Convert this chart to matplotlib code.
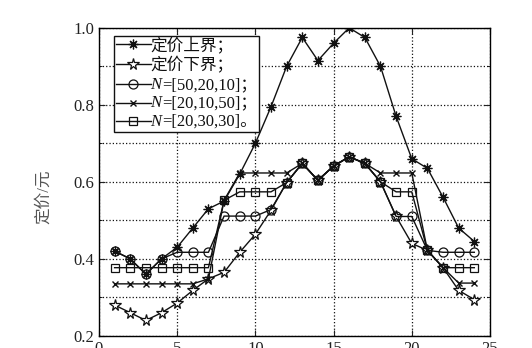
import matplotlib
matplotlib.use('Agg')
import matplotlib.pyplot as plt
from matplotlib.lines import Line2D
from matplotlib.offsetbox import (AnchoredOffsetbox, DrawingArea, HPacker,
                                  TextArea, VPacker)
import numpy as np

plt.rcParams['font.family'] = ['Liberation Serif', 'Noto Sans CJK SC']

# time slots
t = np.arange(1, 25)

# price series
upper = [0.42, 0.40, 0.36, 0.40, 0.43, 0.48, 0.53, 0.55, 0.62, 0.70, 0.795, 0.90,
         0.975, 0.915, 0.96, 1.00, 0.975, 0.90, 0.77, 0.66, 0.635, 0.56, 0.48, 0.445]
lower = [0.28, 0.26, 0.24, 0.26, 0.285, 0.318, 0.348, 0.365, 0.417, 0.464, 0.526, 0.598,
         0.648, 0.604, 0.641, 0.665, 0.648, 0.60, 0.51, 0.44, 0.422, 0.377, 0.318, 0.294]
n_50_20_10 = [0.42, 0.40, 0.36, 0.40, 0.417, 0.417, 0.417, 0.511, 0.511, 0.511, 0.528, 0.598,
              0.648, 0.604, 0.641, 0.665, 0.648, 0.60, 0.51, 0.51, 0.422, 0.417, 0.417, 0.417]
n_20_10_50 = [0.335, 0.335, 0.335, 0.335, 0.335, 0.335, 0.348, 0.552, 0.623, 0.623, 0.623, 0.623,
              0.648, 0.604, 0.641, 0.665, 0.648, 0.623, 0.623, 0.623, 0.422, 0.377, 0.337, 0.337]
n_20_30_30 = [0.377, 0.377, 0.377, 0.377, 0.377, 0.377, 0.377, 0.552, 0.574, 0.574, 0.574, 0.598,
              0.648, 0.604, 0.641, 0.665, 0.648, 0.60, 0.574, 0.574, 0.422, 0.377, 0.377, 0.377]

# legend labels: (italic prefix, rest)
labels = [('', '定价上界；'), ('', '定价下界；'),
          ('N', '=[50,20,10]；'), ('N', '=[20,10,50]；'), ('N', '=[20,30,30]。')]

fig = plt.figure(figsize=(5.32, 3.48), dpi=100)
ax = fig.add_axes([0.186, 0.035, 0.735, 0.885])

c = '#111111'
styles = [dict(marker=(8, 2, 0), ms=7, mew=0.9, mfc=c),
          dict(marker='*', ms=8.5, mfc='white', mew=0.9),
          dict(marker='o', ms=6.5, mfc='none', mew=0.9),
          dict(marker='x', ms=5, mew=1),
          dict(marker='s', ms=5.5, mfc='none', mew=0.9)]
series = [upper, lower, n_50_20_10, n_20_10_50, n_20_30_30]

for ys, st in zip(series, styles):
    ax.plot(t, ys, color=c, lw=1, mec=c, **st)

ax.set_xlim(0, 25)
ax.set_ylim(0.2, 1.0)
ax.set_xticks([0, 5, 10, 15, 20, 25])
ax.set_yticks([0.2, 0.4, 0.6, 0.8, 1.0])
ax.set_yticks([0.3, 0.5, 0.7, 0.9], minor=True)
ax.set_yticklabels(['0.2', '0.4', '0.6', '0.8', '1.0'])
ax.tick_params(direction='in', top=True, right=True, labelsize=12, length=4, width=0.8,
               colors='#222222')
ax.tick_params(which='minor', direction='in', left=True, right=True, length=2)
ax.grid(True, which='both', axis='y', linestyle=':', color=c, lw=0.9)
ax.grid(True, which='major', axis='x', linestyle=':', color=c, lw=0.9)
for s in ax.spines.values():
    s.set_linewidth(1)

ax.set_ylabel('定价/元', fontsize=12, color='#555555')
ax.yaxis.set_label_coords(-0.12, 0.45)

# hand-built legend so that N can be italic next to CJK punctuation
rows = []
for (pre, rest), st in zip(labels, styles):
    da = DrawingArea(25, 10, 0, 0)
    hy = 6.5 if not pre else 5.5
    da.add_artist(Line2D([0, 25], [hy, hy], color=c, lw=1))
    da.add_artist(Line2D([12.5], [hy], color=c, lw=0, mec=c, **st))
    parts = [da]
    if pre:
        parts.append(TextArea(pre, textprops=dict(fontsize=12, style='italic', color=c)))
    parts.append(TextArea(rest, textprops=dict(fontsize=12, color=c)))
    rows.append(HPacker(children=parts, align='center', pad=0, sep=0))
box = VPacker(children=rows, align='left', pad=0, sep=1.8)
ao = AnchoredOffsetbox(loc='upper left', child=box, pad=0.15, borderpad=0,
                       frameon=True, bbox_to_anchor=(0.038, 0.974),
                       bbox_transform=ax.transAxes)
ao.patch.set_boxstyle('square', pad=0)
ao.patch.set_edgecolor(c)
ao.patch.set_linewidth(1)
ax.add_artist(ao)

plt.savefig('out.png', dpi=100)
